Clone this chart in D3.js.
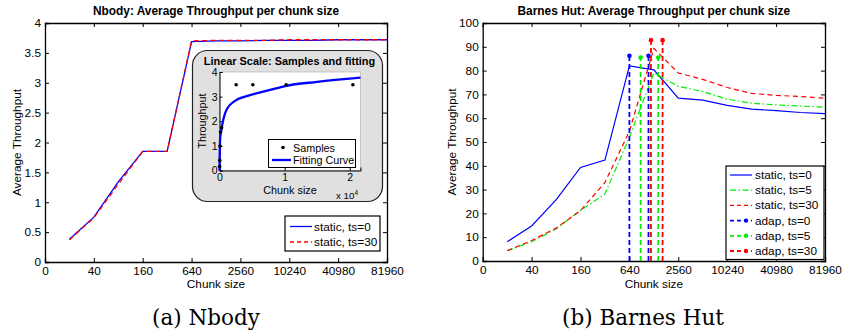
<!DOCTYPE html>
<html><head><meta charset="utf-8">
<script src="https://cdn.jsdelivr.net/npm/d3@7"></script>
<style>
html,body{margin:0;padding:0;background:#fff;}
svg{display:block;font-family:"Liberation Sans",Arial,sans-serif;}
</style></head>
<body><svg id="c" width="842" height="333"></svg>
<script>
// ---------- DATA ----------
const chunkSizes = [20,40,80,160,320,640,1280,2560,5120,10240,20480,40960,81920,163840];
const tickChunks = [10,40,160,640,2560,10240,40960,163840];
const tickLabels = ["0","40","160","640","2560","10240","40980","81960"];

// Nbody
const nbodyTs0  = [0.38,0.75,1.34,1.85,1.85,3.69,3.70,3.70,3.71,3.71,3.71,3.72,3.72,3.72];
const nbodyTs30 = [0.37,0.74,1.30,1.85,1.85,3.70,3.71,3.71,3.71,3.72,3.72,3.72,3.72,3.72];
const nbodyYTicks = [0,0.5,1,1.5,2,2.5,3,3.5,4];

// inset (linear scale)
const sampleChunks = [20,40,80,160,320,2560,5120,10240,20480];
const sampleValues = [0.16,0.41,0.99,1.56,1.74,3.48,3.48,3.48,3.48];
const fitChunks = [0,40,100,260,613,1133,2400,4700,7760,10060,15000,21650];
const fitValues = [0,0.8,1.3,1.6,2.1,2.5,2.83,3.06,3.27,3.43,3.6,3.77];

// Barnes Hut
const bhStaticTs0  = [8.1,14.7,25.7,39.3,42.4,82.0,80.3,68.4,67.6,65.4,63.8,63.2,62.4,61.9];
const bhStaticTs5  = [4.3,8.1,13.5,21.2,28.2,52.0,79.0,73.4,71.2,68.0,66.3,65.6,65.1,64.6];
const bhStaticTs30 = [4.3,8.6,13.8,21.2,33.0,54.5,89.3,79.0,76.3,72.9,70.4,69.6,69.1,68.4];
const adapTs0Chunks  = [640,1100];  const adapTs0Value  = 86.2;
const adapTs5Chunks  = [880,1450];  const adapTs5Value  = 85.5;
const adapTs30Chunks = [1180,1640]; const adapTs30Value = 92.8;
const bhYTicks = [0,10,20,30,40,50,60,70,80,90,100];

// ---------- DRAW ----------
const svg = d3.select("#c");
const FS = "11.8px";
const BLUE="#0000ff", RED="#ff0000", GREEN="#00ee00";

function panel(opt){
  const g = svg.append("g");
  const x = d3.scaleLog().base(2).domain([10,163840]).range([opt.x0,opt.x1]);
  const y = d3.scaleLinear().domain(opt.yDomain).range([opt.y1,opt.y0]);
  g.append("rect").attr("x",opt.x0).attr("y",opt.y0).attr("width",opt.x1-opt.x0).attr("height",opt.y1-opt.y0)
    .attr("fill","#fff").attr("stroke","none");
  const tl=4;
  const xb = g.append("g").attr("transform",`translate(0,${opt.y1})`)
    .call(d3.axisBottom(x).tickValues(tickChunks).tickFormat((d,i)=>tickLabels[i]).tickSize(-tl).tickPadding(4.5));
  const xt = g.append("g").attr("transform",`translate(0,${opt.y0})`)
    .call(d3.axisTop(x).tickValues(tickChunks).tickFormat("").tickSize(-tl));
  const yl = g.append("g").attr("transform",`translate(${opt.x0},0)`)
    .call(d3.axisLeft(y).tickValues(opt.yTicks).tickFormat(d=>String(d)).tickSize(-tl).tickPadding(4));
  const yr = g.append("g").attr("transform",`translate(${opt.x1},0)`)
    .call(d3.axisRight(y).tickValues(opt.yTicks).tickFormat("").tickSize(-tl));
  [xb,xt,yl,yr].forEach(a=>{
    a.select(".domain").attr("stroke","#000").attr("stroke-width",1.3);
    a.selectAll(".tick line").attr("stroke","#000").attr("stroke-width",1);
    a.selectAll("text").attr("font-size",FS).attr("fill","#000").attr("font-family","Liberation Sans, Arial, sans-serif");
  });
  xb.selectAll(".tick line").filter((d,i)=>i==0||i==tickChunks.length-1).remove();
  xt.selectAll(".tick line").filter((d,i)=>i==0||i==tickChunks.length-1).remove();
  yl.selectAll(".tick line").filter((d,i,n)=>i==0||i==n.length-1).remove();
  yr.selectAll(".tick line").filter((d,i,n)=>i==0||i==n.length-1).remove();
  g.append("text").attr("x",(opt.x0+opt.x1)/2).attr("y",15).attr("text-anchor","middle")
    .attr("font-weight","bold").attr("font-size","11.9px").text(opt.title);
  g.append("text").attr("x",(opt.x0+opt.x1)/2).attr("y",288).attr("text-anchor","middle")
    .attr("font-size",FS).text("Chunk size");
  g.append("text").attr("transform",`translate(${opt.ylabX},${(opt.y0+opt.y1)/2}) rotate(-90)`)
    .attr("text-anchor","middle").attr("font-size",FS).text("Average Throughput");
  g.append("text").attr("x",opt.capX).attr("y",325).attr("text-anchor","middle")
    .attr("font-family","DejaVu Serif, serif").attr("font-size","21.5px").text(opt.caption);
  return {g,x,y};
}

function line(g,x,y,xs,ys,color,dash,w){
  const l = d3.line().x((d,i)=>x(xs[i])).y(d=>y(d));
  g.append("path").datum(ys).attr("d",l).attr("fill","none").attr("stroke",color)
    .attr("stroke-width",w||1.2).attr("stroke-dasharray",dash||null);
}

// ---- Panel (a) ----
const A = panel({x0:45,x1:387,y0:23,y1:262,yDomain:[0,4],yTicks:nbodyYTicks,
  title:"Nbody: Average Throughput per chunk size",ylabX:21,capX:206,caption:"(a) Nbody"});
line(A.g,A.x,A.y,chunkSizes,nbodyTs0,BLUE,null,1.3);
line(A.g,A.x,A.y,chunkSizes,nbodyTs30,RED,"5,3.5",1.3);

{
  const lg=A.g.append("g");
  lg.append("rect").attr("x",285).attr("y",216).attr("width",95).attr("height",35)
    .attr("fill","#fff").attr("stroke","#000").attr("stroke-width",1.2);
  const ent=[["static, ts=0",BLUE,null],["static, ts=30",RED,"4,3"]];
  ent.forEach((e,i)=>{
    const yy=226.5+i*15.5;
    lg.append("line").attr("x1",290).attr("x2",312).attr("y1",yy).attr("y2",yy)
      .attr("stroke",e[1]).attr("stroke-width",1.3).attr("stroke-dasharray",e[2]);
    lg.append("text").attr("x",314).attr("y",yy+4).attr("font-size",FS).text(e[0]);
  });
}

// inset
{
  const ig=A.g.append("g");
  ig.append("rect").attr("x",192.5).attr("y",50.5).attr("width",190).attr("height",151)
    .attr("rx",15).attr("ry",15).attr("fill","#e0e0e0").attr("stroke","#222").attr("stroke-width",1.2);
  ig.append("text").attr("x",289.5).attr("y",64.5).attr("text-anchor","middle").attr("font-weight","bold")
    .attr("font-size","10.9px").text("Linear Scale: Samples and fitting");
  const ix=d3.scaleLinear().domain([0,21650]).range([219.5,360.5]);
  const iy=d3.scaleLinear().domain([0,4]).range([170.5,72]);
  ig.append("rect").attr("x",219.5).attr("y",72).attr("width",141).attr("height",98.5)
    .attr("fill","#fff").attr("stroke","#bbb").attr("stroke-width",0.8);
  const ax=ig.append("g").attr("transform","translate(0,170.5)")
    .call(d3.axisBottom(ix).tickValues([0,10000,20000]).tickFormat(d=>String(d/10000)).tickSize(-3).tickPadding(3));
  const ay=ig.append("g").attr("transform","translate(219.5,0)")
    .call(d3.axisLeft(iy).tickValues([0,1,2,3,4]).tickFormat(d=>String(d)).tickSize(-3).tickPadding(2));
  [ax,ay].forEach(a=>{
    a.select(".domain").attr("stroke","#000").attr("stroke-width",1);
    a.selectAll(".tick line").attr("stroke","#000");
    a.selectAll("text").attr("font-size","10.5px").attr("fill","#000").attr("font-family","Liberation Sans, Arial, sans-serif");
  });
  ig.append("text").attr("x",290).attr("y",193.5).attr("text-anchor","middle").attr("font-size","10.8px").text("Chunk size");
  const xe=ig.append("text").attr("x",336).attr("y",199).attr("font-size","9.8px");
  xe.append("tspan").text("x 10");
  xe.append("tspan").attr("dy",-4).attr("font-size","6.5px").text("4");
  ig.append("text").attr("transform","translate(206,121) rotate(-90)").attr("text-anchor","middle")
    .attr("font-size","10.8px").text("Throughput");
  const fl=d3.line().x((d,i)=>ix(fitChunks[i])).y(d=>iy(d)).curve(d3.curveMonotoneX);
  ig.append("path").datum(fitValues).attr("d",fl).attr("fill","none").attr("stroke",BLUE).attr("stroke-width",2.3);
  ig.selectAll("circle.s").data(sampleValues).enter().append("circle")
    .attr("cx",(d,i)=>ix(sampleChunks[i])).attr("cy",d=>iy(d)).attr("r",1.8).attr("fill","#000");
  ig.append("rect").attr("x",268.5).attr("y",139.5).attr("width",87).attr("height",28)
    .attr("fill","#fff").attr("stroke","#000").attr("stroke-width",1);
  ig.append("circle").attr("cx",283).attr("cy",147.5).attr("r",1.8).attr("fill","#000");
  ig.append("text").attr("x",293).attr("y",151.5).attr("font-size","10.8px").text("Samples");
  ig.append("line").attr("x1",272).attr("x2",291).attr("y1",160).attr("y2",160).attr("stroke",BLUE).attr("stroke-width",2.3);
  ig.append("text").attr("x",293).attr("y",164).attr("font-size","10.8px").text("Fitting Curve");
}

// ---- Panel (b) ----
const B = panel({x0:482.7,x1:825,y0:23,y1:261,yDomain:[0,100],yTicks:bhYTicks,
  title:"Barnes Hut: Average Throughput per chunk size",ylabX:456,capX:643,caption:"(b) Barnes Hut"});
line(B.g,B.x,B.y,chunkSizes,bhStaticTs0,BLUE,null,1.2);
line(B.g,B.x,B.y,chunkSizes,bhStaticTs5,GREEN,"6,2.5,1.5,2.5",1.2);
line(B.g,B.x,B.y,chunkSizes,bhStaticTs30,RED,"5,3.5",1.2);
const adap=[[adapTs0Chunks,adapTs0Value,BLUE],[adapTs5Chunks,adapTs5Value,GREEN],[adapTs30Chunks,adapTs30Value,RED]];
adap.forEach(a=>{
  a[0].forEach(c=>{
    B.g.append("line").attr("x1",B.x(c)).attr("x2",B.x(c)).attr("y1",B.y(0)).attr("y2",B.y(a[1]))
      .attr("stroke",a[2]).attr("stroke-width",1.8).attr("stroke-dasharray","5,3");
    B.g.append("circle").attr("cx",B.x(c)).attr("cy",B.y(a[1])).attr("r",2.3).attr("fill",a[2]);
  });
});
{
  const lg=B.g.append("g");
  lg.append("rect").attr("x",726).attr("y",166).attr("width",98).attr("height",93.5)
    .attr("fill","#fff").attr("stroke","#000").attr("stroke-width",1.2);
  const ent=[["static, ts=0",BLUE,null,false],["static, ts=5",GREEN,"6,2.5,1.5,2.5",false],
    ["static, ts=30",RED,"4,3",false],["adap, ts=0",BLUE,"4,3",true],
    ["adap, ts=5",GREEN,"4,3",true],["adap, ts=30",RED,"4,3",true]];
  ent.forEach((e,i)=>{
    const yy=175+i*15.2;
    lg.append("line").attr("x1",730).attr("x2",752).attr("y1",yy).attr("y2",yy)
      .attr("stroke",e[1]).attr("stroke-width",e[3]?1.8:1.2).attr("stroke-dasharray",e[2]);
    if(e[3]) lg.append("circle").attr("cx",746).attr("cy",yy).attr("r",2.2).attr("fill",e[1]);
    lg.append("text").attr("x",755).attr("y",yy+4).attr("font-size",FS).text(e[0]);
  });
}
</script></body></html>
